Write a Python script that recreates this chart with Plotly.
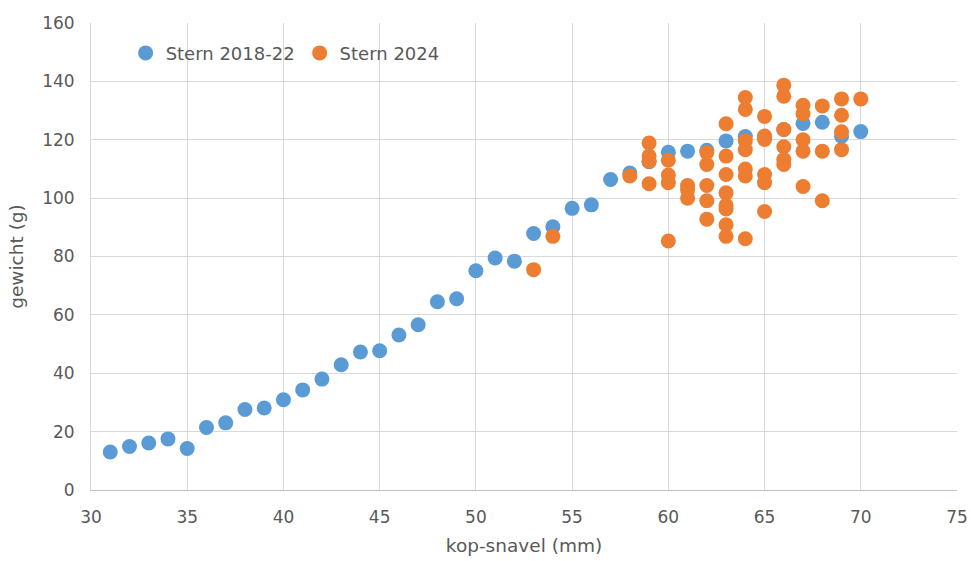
import plotly.graph_objects as go

# Stern 2018-22: one bird per head-bill length
stern_1822_x = list(range(31, 71))
stern_1822_y = [13.0, 14.9, 16.1, 17.5, 14.2, 21.4, 23.0, 27.6, 28.1, 30.9,
                34.3, 38.0, 42.9, 47.3, 47.7, 53.1, 56.6, 64.5, 65.5, 75.1,
                79.5, 78.4, 87.9, 90.2, 96.5, 97.7, 106.4, 108.6, 112.5, 115.7,
                116.1, 116.4, 119.6, 121.1, 121.0, 123.5, 125.6, 126.0, 121.2, 122.8]

# Stern 2024: weights grouped by head-bill length (mm)
stern_2024 = {
    53: [75.5],
    54: [86.9],
    58: [107.6],
    59: [118.9, 114.4, 112.6, 104.9],
    60: [113.0, 107.9, 105.3, 85.3],
    61: [104.3, 102.9, 100.0],
    62: [115.6, 111.5, 104.3, 99.1, 92.8],
    63: [125.5, 114.4, 108.1, 101.8, 97.5, 96.3, 90.9, 86.9],
    64: [134.5, 130.4, 119.7, 116.6, 110.0, 107.6, 86.1],
    65: [128.0, 121.3, 120.1, 108.1, 105.3, 95.4],
    66: [138.7, 134.9, 123.5, 117.6, 113.2, 111.5],
    67: [131.8, 128.9, 120.0, 116.1, 104.0],
    68: [131.6, 116.1, 99.1],
    69: [134.0, 128.4, 122.7, 116.6],
    70: [134.0],
}
stern_2024_x = [k for k, vals in stern_2024.items() for _ in vals]
stern_2024_y = [v for vals in stern_2024.values() for v in vals]

x_ticks = list(range(30, 76, 5))
y_ticks = list(range(0, 161, 20))

font_family = "DejaVu Sans, Liberation Sans, sans-serif"
text_color = "#595959"
grid_color = "#D9D9D9"

fig = go.Figure()
fig.add_trace(go.Scatter(
    x=stern_1822_x, y=stern_1822_y, mode="markers", name="Stern 2018-22",
    marker=dict(color="#5B9BD5", size=15, line=dict(width=0)),
))
fig.add_trace(go.Scatter(
    x=stern_2024_x, y=stern_2024_y, mode="markers", name="Stern 2024",
    marker=dict(color="#ED7D31", size=15, line=dict(width=0)),
))

fig.update_layout(
    width=971, height=561,
    margin=dict(l=91, r=14, t=23, b=71),
    paper_bgcolor="white", plot_bgcolor="white",
    font=dict(family=font_family, size=17, color=text_color),
    legend=dict(
        orientation="h", x=0.04, y=0.975, xanchor="left", yanchor="top",
        bgcolor="rgba(0,0,0,0)", font=dict(size=18, color=text_color),
        itemwidth=30, tracegroupgap=0,
    ),
    xaxis=dict(
        range=[30, 75], tickvals=x_ticks, showgrid=True, gridcolor=grid_color,
        gridwidth=1, zeroline=False, showline=True, linecolor="#BFBFBF",
        linewidth=1, ticks="", ticklabelstandoff=12, automargin=False,
        title=dict(text="kop-snavel (mm)", font=dict(size=18.5, color=text_color), standoff=12),
    ),
    yaxis=dict(
        range=[0, 160], tickvals=y_ticks, showgrid=True, gridcolor=grid_color,
        gridwidth=1, zeroline=False, showline=True, linecolor=grid_color,
        linewidth=1, ticks="", ticklabelstandoff=12, automargin=False,
        title=dict(text="gewicht (g)", font=dict(size=18.5, color=text_color), standoff=13),
    ),
    showlegend=True,
)

fig.write_html("out.html")
